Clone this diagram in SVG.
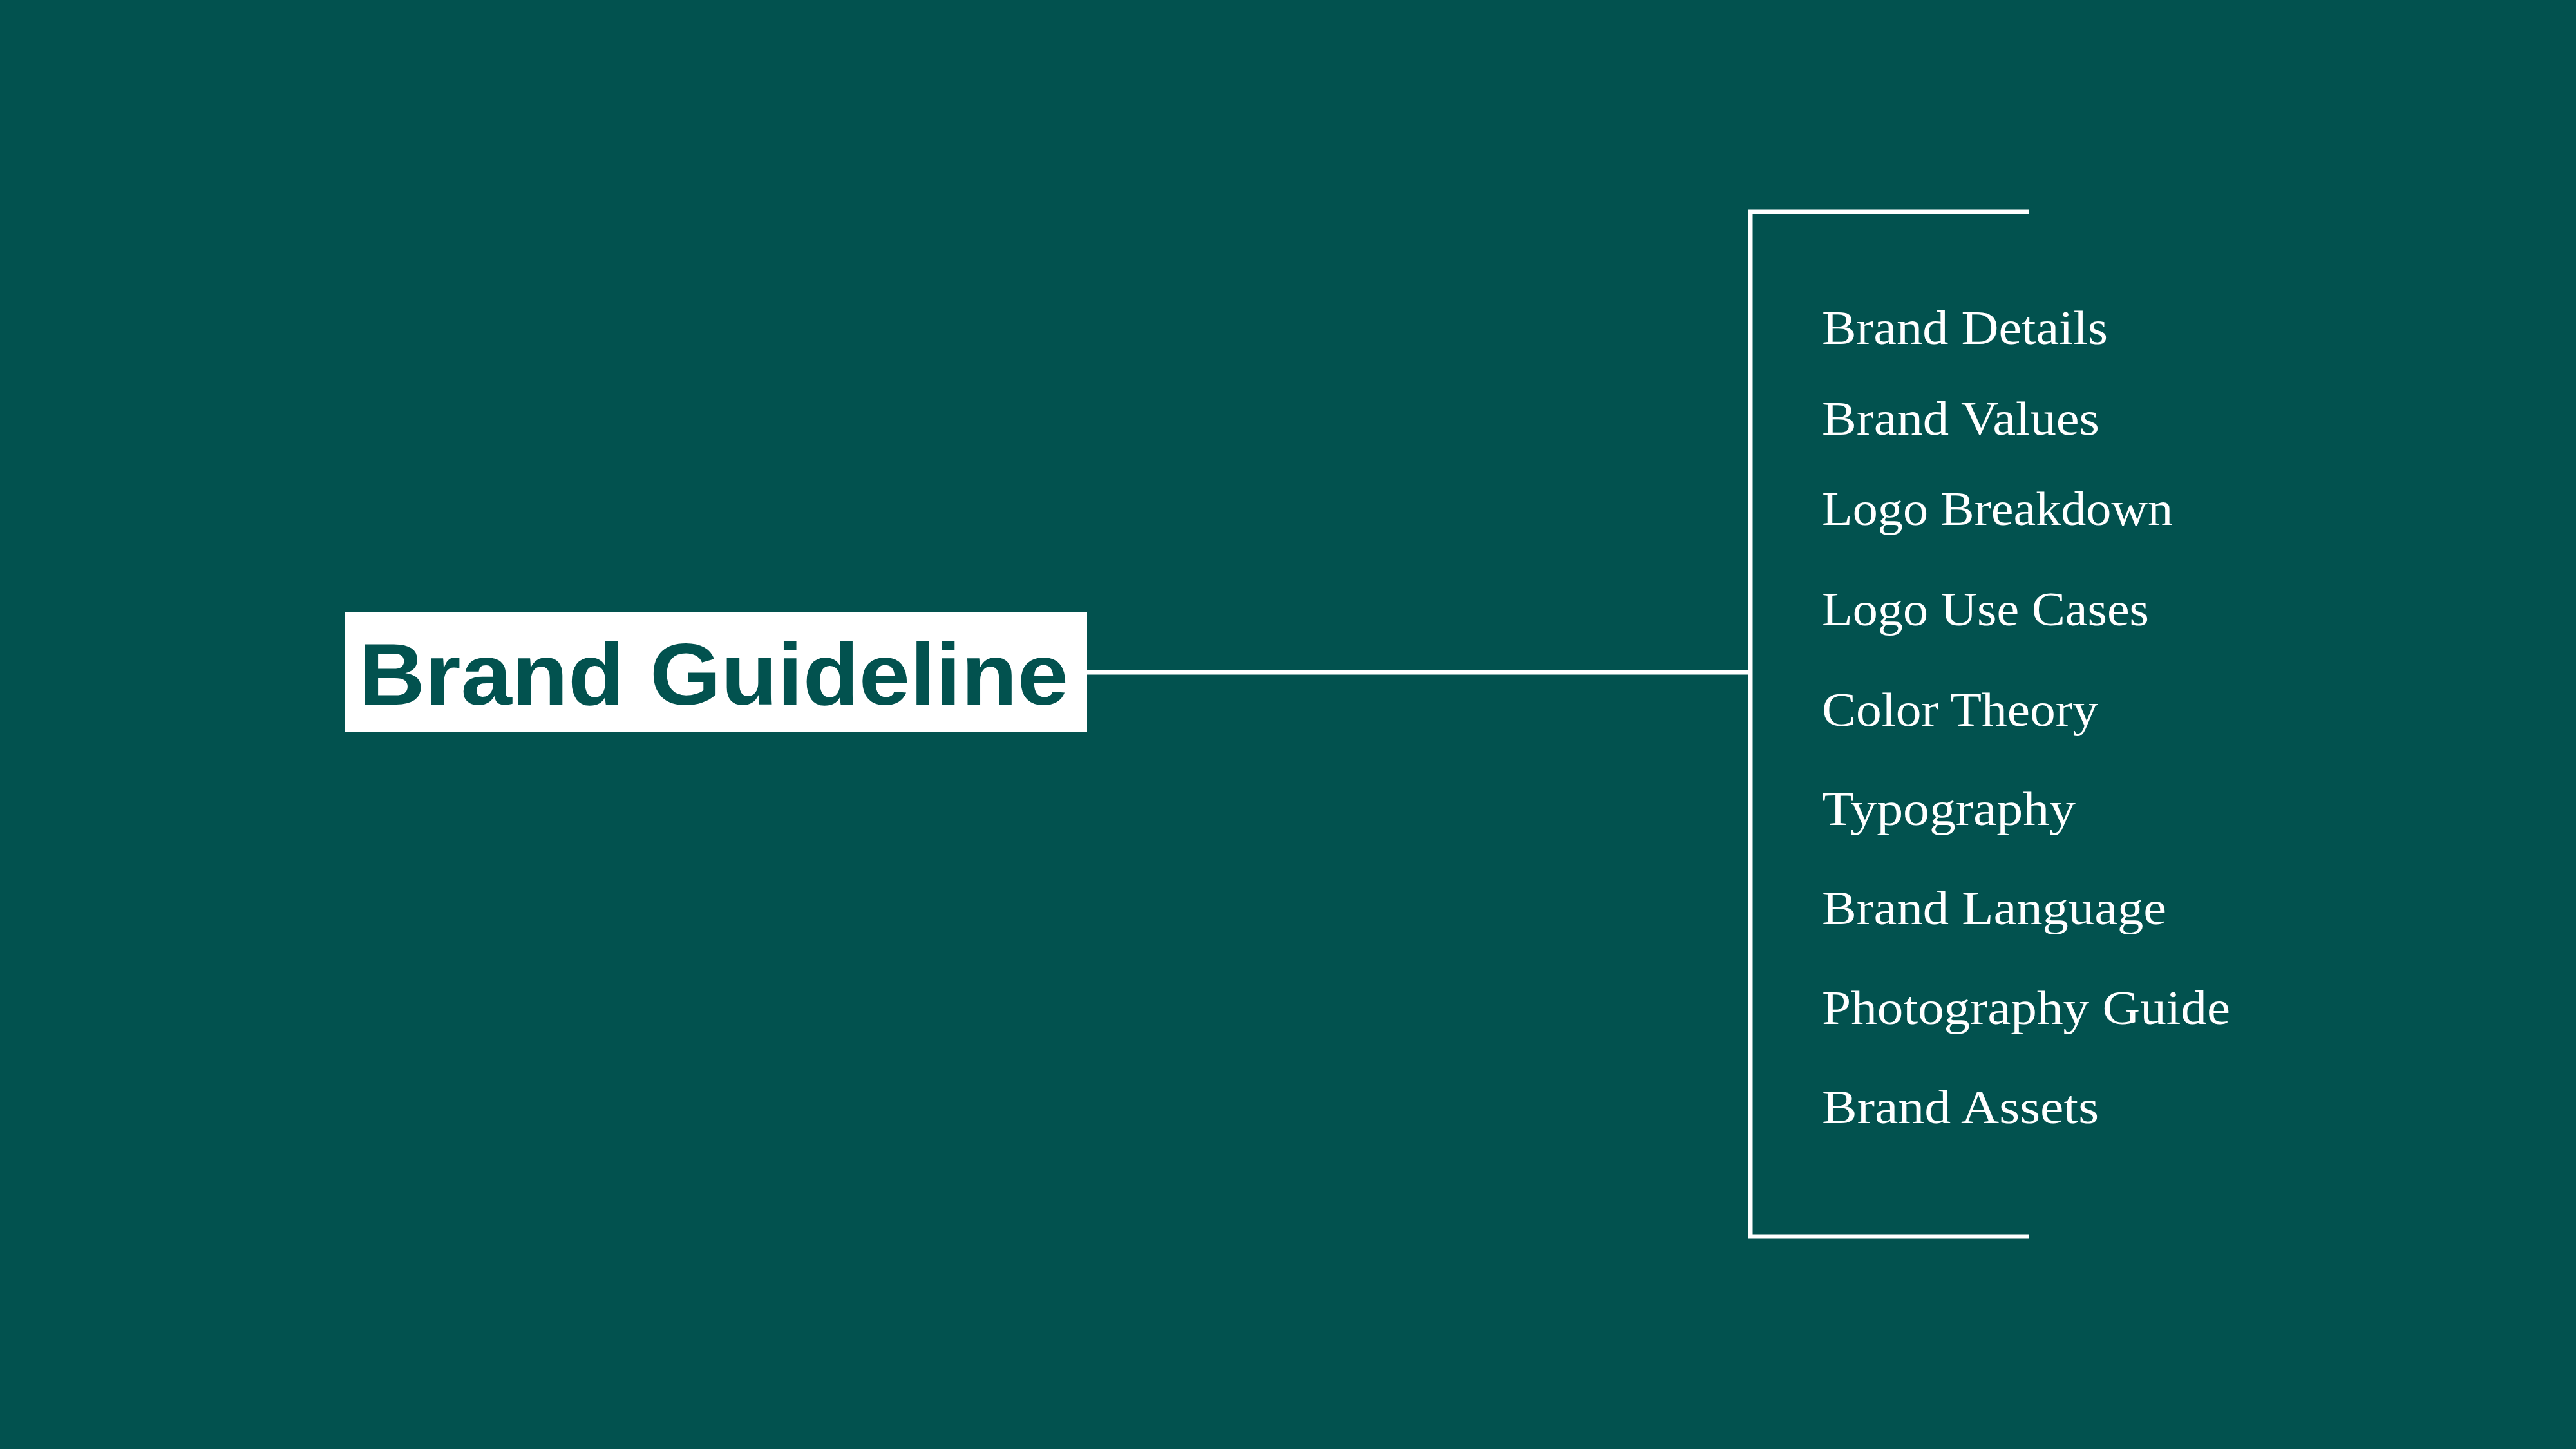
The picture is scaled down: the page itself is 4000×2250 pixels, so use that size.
<svg xmlns="http://www.w3.org/2000/svg" width="4000" height="2250" viewBox="0 0 4000 2250">
<style>
.bg{fill:#02524F}
.box{fill:#FFFFFF}
.title{font-family:"Liberation Sans","Arial",sans-serif;font-weight:bold;font-size:136px;fill:#02524F}
.item{font-family:"Liberation Serif","Times New Roman",serif;font-size:75px;fill:#FFFFFF}
.line{stroke:#FFFFFF;stroke-width:7;fill:none}
</style>
<rect class="bg" x="0" y="0" width="4000" height="2250"/>
<g id="connectors">
<line class="line" x1="1688" y1="1044" x2="2718" y2="1044"/>
<path class="line" d="M3150 329 H2718 V1920 H3150"/>
</g>
<g id="node-brand-guideline">
<rect class="box" x="536" y="951" width="1152" height="186"/>
<text class="title" x="557" y="1094" textLength="1102" lengthAdjust="spacingAndGlyphs">Brand Guideline</text>
</g>
<g id="node-brand-details"><text class="item" x="2829" y="534" textLength="444" lengthAdjust="spacingAndGlyphs">Brand Details</text></g>
<g id="node-brand-values"><text class="item" x="2829" y="675" textLength="431" lengthAdjust="spacingAndGlyphs">Brand Values</text></g>
<g id="node-logo-breakdown"><text class="item" x="2829" y="815" textLength="545" lengthAdjust="spacingAndGlyphs">Logo Breakdown</text></g>
<g id="node-logo-use-cases"><text class="item" x="2829" y="971" textLength="508" lengthAdjust="spacingAndGlyphs">Logo Use Cases</text></g>
<g id="node-color-theory"><text class="item" x="2829" y="1127" textLength="429" lengthAdjust="spacingAndGlyphs">Color Theory</text></g>
<g id="node-typography"><text class="item" x="2829" y="1281" textLength="394" lengthAdjust="spacingAndGlyphs">Typography</text></g>
<g id="node-brand-language"><text class="item" x="2829" y="1435" textLength="535" lengthAdjust="spacingAndGlyphs">Brand Language</text></g>
<g id="node-photography-guide"><text class="item" x="2829" y="1590" textLength="634" lengthAdjust="spacingAndGlyphs">Photography Guide</text></g>
<g id="node-brand-assets"><text class="item" x="2829" y="1744" textLength="430" lengthAdjust="spacingAndGlyphs">Brand Assets</text></g>
</svg>
